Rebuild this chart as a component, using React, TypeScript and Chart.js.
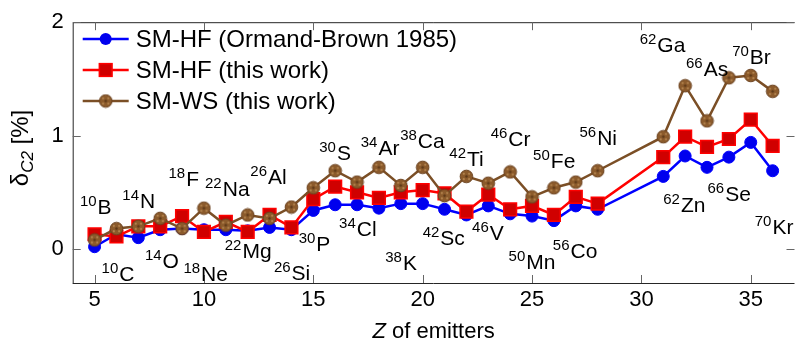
import React, { useEffect, useRef } from "react";
import { Chart, registerables } from "chart.js";

Chart.register(...registerables);

// Z of the emitting nucleus
const zValues = [5, 6, 7, 8, 9, 10, 11, 12, 13, 14, 15, 16, 17, 18, 19, 20, 21, 22, 23, 24, 25, 26, 27, 28, 31, 32, 33, 34, 35, 36];

// delta_C2 in percent
const smHfOrmandBrown = [0.02, 0.13, 0.10, 0.17, 0.18, 0.17, 0.17, 0.16, 0.19, 0.17, 0.34, 0.39, 0.39, 0.36, 0.40, 0.40, 0.35, 0.30, 0.38, 0.31, 0.29, 0.25, 0.38, 0.35, 0.64, 0.82, 0.72, 0.81, 0.94, 0.69];
const smHfThisWork = [0.13, 0.11, 0.20, 0.20, 0.29, 0.15, 0.24, 0.15, 0.30, 0.19, 0.44, 0.55, 0.50, 0.45, 0.50, 0.52, 0.49, 0.33, 0.48, 0.35, 0.38, 0.30, 0.46, 0.40, 0.81, 0.99, 0.90, 0.97, 1.14, 0.91];
const smWsThisWork = [0.08, 0.18, 0.20, 0.27, 0.18, 0.36, 0.21, 0.30, 0.27, 0.37, 0.54, 0.69, 0.59, 0.72, 0.56, 0.72, 0.47, 0.64, 0.58, 0.68, 0.46, 0.54, 0.59, 0.69, 0.99, 1.44, 1.13, 1.51, 1.53, 1.39];

const seriesNames = ["SM-HF (Ormand-Brown 1985)", "SM-HF (this work)", "SM-WS (this work)"];

const xTickValues = [5, 10, 15, 20, 25, 30, 35];
const yTickValues = [0, 1, 2];

// Nuclide annotations: mass number, symbol
const nuclideMass = [10, 14, 18, 22, 26, 30, 34, 38, 42, 46, 50, 56, 62, 66, 70, 10, 14, 18, 22, 26, 30, 34, 38, 42, 46, 50, 56, 62, 66, 70];
const nuclideSymbol = ["B", "N", "F", "Na", "Al", "S", "Ar", "Ca", "Ti", "Cr", "Fe", "Ni", "Ga", "As", "Br", "C", "O", "Ne", "Mg", "Si", "P", "Cl", "K", "Sc", "V", "Mn", "Co", "Zn", "Se", "Kr"];
// anchor of each annotation (left edge, text middle) in axis units
const nuclideAnchorZ = [4.33, 6.27, 8.38, 10.05, 12.12, 15.27, 17.17, 18.97, 21.22, 23.11, 25.05, 27.17, 29.92, 32.04, 34.15, 5.32, 7.3, 9.06, 10.95, 13.2, 14.33, 16.18, 18.29, 20.0, 22.26, 23.93, 25.95, 31.0, 33.02, 35.18];
const nuclideAnchorD = [0.377, 0.429, 0.62, 0.533, 0.637, 0.855, 0.898, 0.959, 0.794, 0.977, 0.777, 0.985, 1.803, 1.594, 1.698, -0.215, -0.102, -0.215, -0.015, -0.206, 0.046, 0.177, -0.119, 0.098, 0.142, -0.11, -0.015, 0.394, 0.49, 0.194];

const FONT = "'Liberation Sans', Arial, Helvetica, sans-serif";
const AXIS_COLOR = "#262626";

function makeHatchedDot(r: number): HTMLCanvasElement {
  const size = Math.ceil(r * 2 + 2);
  const c = document.createElement("canvas");
  c.width = size;
  c.height = size;
  const g = c.getContext("2d")!;
  const m = size / 2;
  g.beginPath();
  g.arc(m, m, r, 0, Math.PI * 2);
  g.fillStyle = "#8b5a2b";
  g.fill();
  g.lineWidth = 1;
  g.strokeStyle = "#6b4220";
  g.stroke();
  g.fillStyle = "#b3844f";
  const d = r * 0.42;
  [[-d, -d], [d, -d], [-d, d], [d, d]].forEach(([dx, dy]) => {
    g.beginPath();
    g.arc(m + dx, m + dy, 1.1, 0, Math.PI * 2);
    g.fill();
  });
  g.fillStyle = "#5a3717";
  g.beginPath();
  g.arc(m, m, 1.2, 0, Math.PI * 2);
  g.fill();
  return c;
}

export default function App() {
  const ref = useRef<HTMLCanvasElement | null>(null);

  useEffect(() => {
    const canvas = ref.current;
    if (!canvas) return;
    const brownDot = makeHatchedDot(6.3);

    const styles = [
      { line: "#0000ff", fill: "#0000ee", border: "#0000ff", pointStyle: "circle" as any, radius: 6, borderWidth: 1 },
      { line: "#ff0000", fill: "#d00000", border: "#ff0000", pointStyle: "rect" as any, radius: 9, borderWidth: 1.5 },
      { line: "#7b4f26", fill: "#8b5a2b", border: "#6b4220", pointStyle: brownDot as any, radius: 6.3, borderWidth: 1 },
    ];
    const values = [smHfOrmandBrown, smHfThisWork, smWsThisWork];

    const boxPlugin = {
      id: "boxAndTicks",
      beforeDatasetsDraw(chart: any) {
        const { ctx, chartArea: a, scales } = chart;
        ctx.save();
        ctx.strokeStyle = AXIS_COLOR;
        ctx.lineWidth = 1;
        ctx.beginPath();
        ctx.moveTo(a.left + 0.5, a.bottom + 0.5);
        ctx.lineTo(a.left + 0.5, a.top + 0.5);
        ctx.lineTo(a.right, a.top + 0.5);
        ctx.moveTo(a.left, a.bottom + 0.5);
        ctx.lineTo(a.right, a.bottom + 0.5);
        ctx.stroke();
        const tl = 8;
        ctx.strokeStyle = "#666";
        ctx.beginPath();
        xTickValues.forEach((v) => {
          const px = Math.round(scales.x.getPixelForValue(v)) + 0.5;
          ctx.moveTo(px, a.bottom);
          ctx.lineTo(px, a.bottom - tl);
          ctx.moveTo(px, a.top);
          ctx.lineTo(px, a.top + tl);
        });
        yTickValues.forEach((v) => {
          const py = Math.round(scales.y.getPixelForValue(v)) + 0.5;
          ctx.moveTo(a.left, py);
          ctx.lineTo(a.left + tl, py);
          ctx.moveTo(a.right, py);
          ctx.lineTo(a.right - tl, py);
        });
        ctx.stroke();
        ctx.restore();
      },
      afterDatasetsDraw(chart: any) {
        const { ctx, scales, chartArea: a } = chart;
        ctx.save();
        ctx.fillStyle = "#000";
        ctx.textBaseline = "alphabetic";
        ctx.textAlign = "left";
        nuclideSymbol.forEach((sym, i) => {
          const x = scales.x.getPixelForValue(nuclideAnchorZ[i]);
          const yMid = scales.y.getPixelForValue(nuclideAnchorD[i]);
          const base = yMid + 7.5;
          ctx.font = `15px ${FONT}`;
          const sup = String(nuclideMass[i]);
          ctx.fillText(sup, x, base - 8);
          const w = ctx.measureText(sup).width;
          ctx.font = `21px ${FONT}`;
          ctx.fillText(sym, x + w + 1, base);
        });

        // legend
        const rows = [39, 70, 101];
        const lx0 = a.left + 10;
        const lx1 = a.left + 56;
        const mx = (lx0 + lx1) / 2;
        rows.forEach((ry, i) => {
          const s = styles[i];
          ctx.strokeStyle = s.line;
          ctx.lineWidth = 2.5;
          ctx.beginPath();
          ctx.moveTo(lx0, ry);
          ctx.lineTo(lx1, ry);
          ctx.stroke();
          if (i === 0) {
            ctx.beginPath();
            ctx.arc(mx, ry, s.radius, 0, Math.PI * 2);
            ctx.fillStyle = s.fill;
            ctx.fill();
          } else if (i === 1) {
            const h = s.radius * Math.SQRT1_2;
            ctx.fillStyle = s.fill;
            ctx.fillRect(mx - h, ry - h, 2 * h, 2 * h);
            ctx.lineWidth = s.borderWidth;
            ctx.strokeStyle = s.border;
            ctx.strokeRect(mx - h, ry - h, 2 * h, 2 * h);
          } else {
            ctx.drawImage(brownDot, mx - brownDot.width / 2, ry - brownDot.height / 2);
          }
          ctx.fillStyle = "#000";
          ctx.font = `24px ${FONT}`;
          ctx.textBaseline = "middle";
          ctx.fillText(seriesNames[i], lx1 + 7, ry + 1);
        });

        // axis titles
        ctx.textBaseline = "alphabetic";
        ctx.font = `italic 22px ${FONT}`;
        const zw = ctx.measureText("Z").width;
        ctx.font = `22px ${FONT}`;
        const rest = " of emitters";
        const rw = ctx.measureText(rest).width;
        const cx = (a.left + a.right) / 2;
        const tx = cx - (zw + rw) / 2;
        ctx.font = `italic 22px ${FONT}`;
        ctx.fillText("Z", tx, 338);
        ctx.font = `22px ${FONT}`;
        ctx.fillText(rest, tx + zw, 338);

        ctx.translate(28, 148);
        ctx.rotate(-Math.PI / 2);
        ctx.font = `24px ${FONT}`;
        const dw = ctx.measureText("δ").width;
        ctx.font = `italic 17px ${FONT}`;
        const cw = ctx.measureText("C2").width;
        ctx.font = `24px ${FONT}`;
        const pw = ctx.measureText(" [%]").width;
        let px = -(dw + cw + pw) / 2;
        ctx.fillText("δ", px, 0);
        px += dw;
        ctx.font = `italic 17px ${FONT}`;
        ctx.fillText("C2", px, 5);
        px += cw;
        ctx.font = `24px ${FONT}`;
        ctx.fillText(" [%]", px, 0);
        ctx.restore();
      },
    };

    const chart = new Chart(canvas, {
      type: "line",
      data: {
        datasets: values.map((vals, i) => ({
          label: seriesNames[i],
          data: zValues.map((z, j) => ({ x: z, y: vals[j] })),
          borderColor: styles[i].line,
          backgroundColor: styles[i].fill,
          pointBackgroundColor: styles[i].fill,
          pointBorderColor: styles[i].border,
          pointBorderWidth: styles[i].borderWidth,
          pointStyle: styles[i].pointStyle,
          pointRadius: styles[i].radius,
          borderWidth: 2.5,
          tension: 0,
          fill: false,
          order: 3 - i,
        })),
      },
      options: {
        responsive: false,
        animation: false,
        layout: { padding: { top: 17, right: 0, left: 0, bottom: 0 } },
        plugins: { legend: { display: false }, tooltip: { enabled: false } },
        scales: {
          x: {
            type: "linear",
            min: 4,
            max: 37,
            afterBuildTicks: (s: any) => {
              s.ticks = xTickValues.map((v) => ({ value: v }));
            },
            afterFit: (s: any) => {
              s.height = 62;
            },
            grid: { display: false, drawTicks: false },
            border: { display: false },
            ticks: { color: "#000", font: { family: FONT, size: 22 }, padding: 4, maxRotation: 0 },
          },
          y: {
            type: "linear",
            min: -0.3,
            max: 2,
            afterBuildTicks: (s: any) => {
              s.ticks = yTickValues.map((v) => ({ value: v }));
            },
            afterFit: (s: any) => {
              s.width = 72.7;
            },
            grid: { display: false, drawTicks: false },
            border: { display: false },
            ticks: { color: "#000", font: { family: FONT, size: 22 }, padding: 9 },
          },
        },
      },
      plugins: [boxPlugin],
    });
    return () => chart.destroy();
  }, []);

  return (
    <div style={{ position: "fixed", left: 0, top: 0, width: 805, height: 345, background: "#fff" }}>
      <canvas ref={ref} width={805} height={345} />
    </div>
  );
}
